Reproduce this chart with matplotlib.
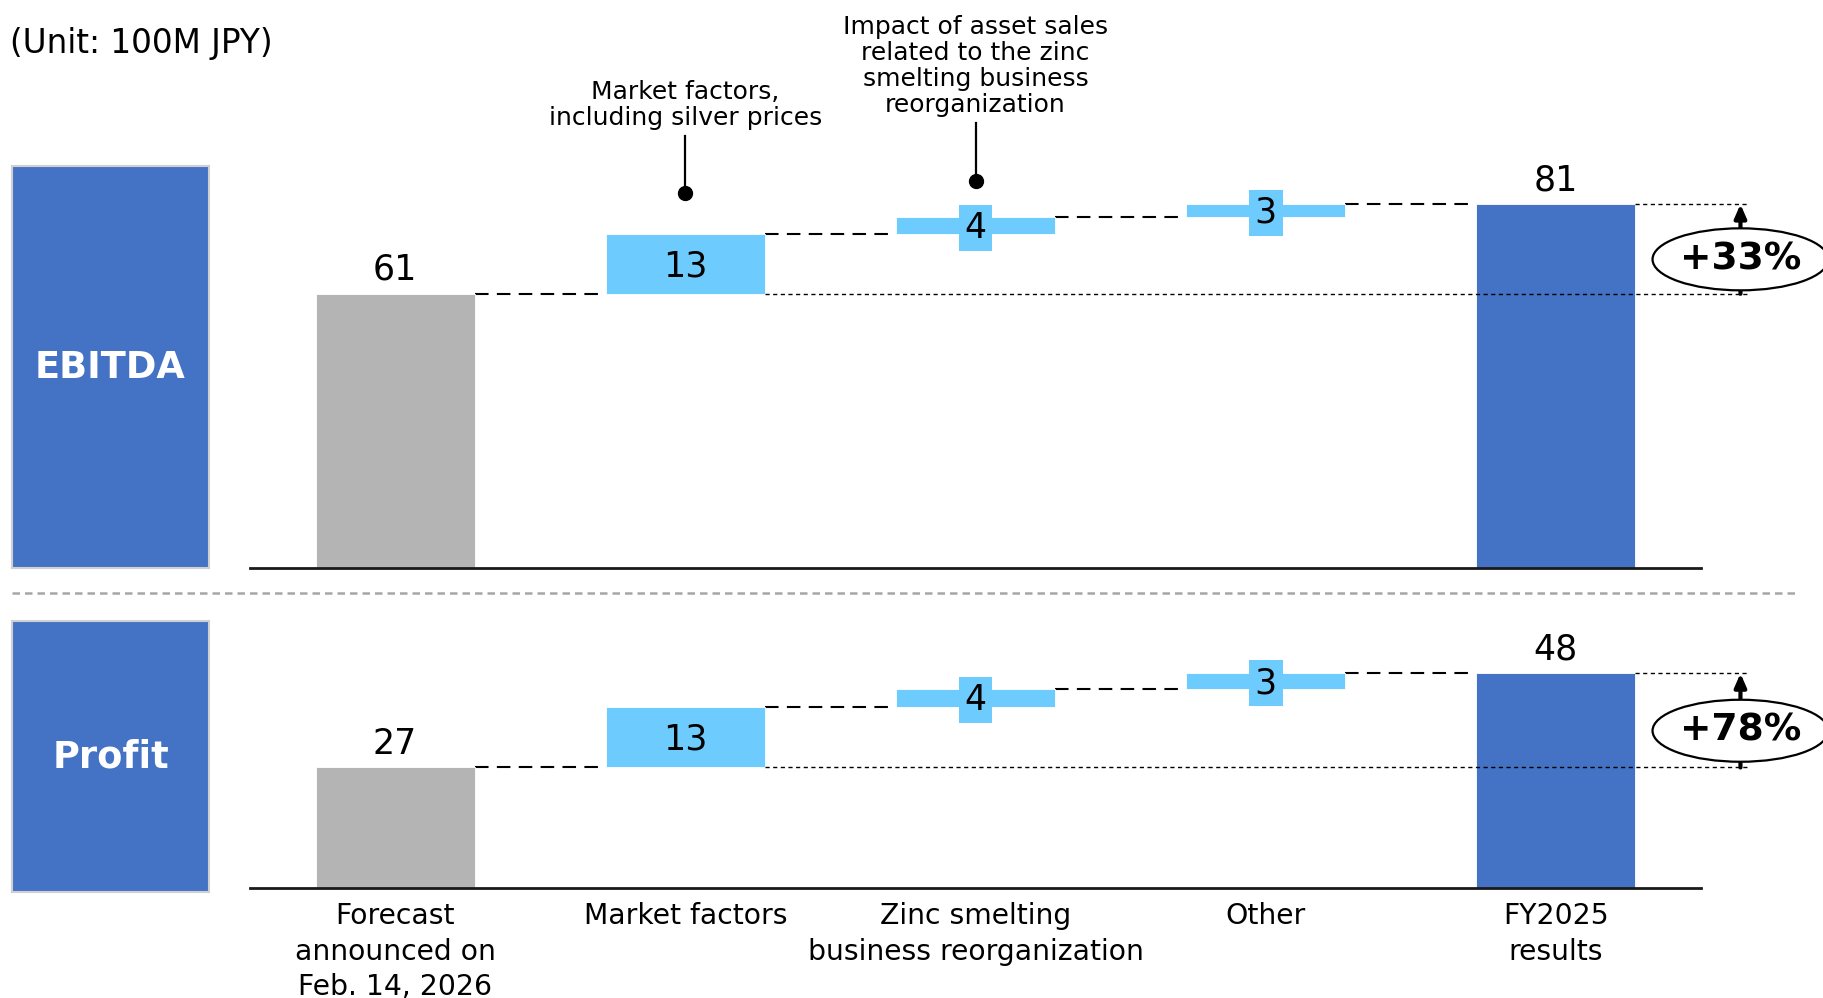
import matplotlib
matplotlib.use("Agg")
import matplotlib.pyplot as plt
from matplotlib.patches import Ellipse
from matplotlib.lines import Line2D
from matplotlib.transforms import ScaledTranslation

plt.rcParams["font.family"] = ["DejaVu Sans"]

# values in 100M JPY
categories = ["Forecast\nannounced on\nFeb. 14, 2026", "Market factors",
              "Zinc smelting\nbusiness reorganization", "Other", "FY2025\nresults"]
ebitda = [61.2, 13.3, 3.8, 2.9, 81.2]   # start, deltas..., result
profit = [26.9, 13.4, 4.2, 3.4, 47.9]
panels = ["EBITDA", "Profit"]
notes = ["Market factors,\nincluding silver prices",
         "Impact of asset sales\nrelated to the zinc\nsmelting business\nreorganization"]

GRAY, LBLUE, BLUE = "#B4B4B4", "#6ECBFE", "#4472C4"
W, H = 1824, 998
PXU = 4.48          # pixels per unit, same for both panels
HW = 0.274          # half bar width

fig = plt.figure(figsize=(W / 100, H / 100), dpi=100)


def frame(px_top, px_bot, left=250, right=1701):
    return [left / W, 1 - px_bot / H, (right - left) / W, (px_bot - px_top) / H]


def shift(ax, dy_pt):
    return ax.transData + ScaledTranslation(0, dy_pt / 72, fig.dpi_scale_trans)


def label_box(px_top, px_bot, name):
    bx = fig.add_axes(frame(px_top, px_bot, 12, 209))
    bx.set_facecolor(BLUE)
    bx.set_xticks([]); bx.set_yticks([])
    for s in bx.spines.values():
        s.set_color("#D0D0D0"); s.set_linewidth(1.5)
    bx.text(0.5, 0.5, name, color="white", fontsize=26.5, fontweight="bold",
            ha="center", va="center", transform=bx.transAxes)


def waterfall(ax, vals, px_h):
    start, deltas, end = vals[0], vals[1:-1], vals[-1]
    ax.set_xlim(-0.5, 4.5)
    ax.set_ylim(0, px_h / PXU)
    for s in ("top", "left", "right"):
        ax.spines[s].set_visible(False)
    ax.spines["bottom"].set_linewidth(2)
    ax.spines["bottom"].set_color("#1a1a1a")
    ax.set_yticks([])

    ax.bar(0, start, width=2 * HW, color=GRAY, edgecolor="white", lw=0.6, zorder=2)
    ax.text(0, start, f"{start:.0f}", ha="center", va="bottom", fontsize=25,
            zorder=5, transform=shift(ax, 5))
    level = start
    levels = [start]
    for i, d in enumerate(deltas, start=1):
        ax.bar(i, d, bottom=level, width=2 * HW, color=LBLUE, edgecolor="white",
               lw=0.6, zorder=2)
        ax.text(i, level + d / 2, f"{d:.0f}", ha="center", va="center", fontsize=25,
                zorder=5, transform=shift(ax, -1.5),
                bbox=dict(boxstyle="square,pad=0.17", fc=LBLUE, ec="none"))
        level += d
        levels.append(level)
    ax.bar(4, end, width=2 * HW, color=BLUE, edgecolor="white", lw=0.6, zorder=2)
    ax.text(4, end, f"{end:.0f}", ha="center", va="bottom", fontsize=25,
            zorder=5, transform=shift(ax, 5))
    levels[-1] = end

    # connectors
    for i, lv in enumerate(levels):
        ax.plot([i + HW, i + 1 - HW], [lv, lv], color="black", lw=1.5,
                ls=(0, (6.5, 4)), zorder=1)

    # change marker
    xa = 4.636
    ax.plot([1 + HW, 4.667], [start, start], color="black", lw=1.0,
            ls=(0, (3, 2.5)), zorder=4, clip_on=False)
    ax.plot([4 + HW, 4.667], [end, end], color="black", lw=1.0,
            ls=(0, (3, 2.5)), zorder=4, clip_on=False)
    ax.annotate("", xy=(xa, end), xytext=(xa, start), annotation_clip=False,
                arrowprops=dict(arrowstyle="-|>,head_width=0.35,head_length=0.8",
                                lw=3, color="black", shrinkA=0, shrinkB=0),
                zorder=5)
    ym = (start + end) / 2 - 2.3
    ax.add_patch(Ellipse((xa, ym), 0.606, 62 / PXU, fc="white", ec="black",
                         lw=1.6, zorder=6, clip_on=False))
    ax.text(xa, ym, f"+{(end / start - 1) * 100:.0f}%", ha="center", va="center",
            fontsize=27, fontweight="bold", zorder=7)
    return levels


ax1 = fig.add_axes(frame(166, 568))
waterfall(ax1, ebitda, 568 - 166)
ax1.set_xticks([])
ax2 = fig.add_axes(frame(621, 888))
waterfall(ax2, profit, 888 - 621)
ax2.set_xticks(range(len(categories)))
ax2.set_xticklabels(categories, fontsize=20.3, linespacing=1.35)
ax2.tick_params(axis="x", length=0, pad=10)

label_box(166, 568, panels[0])
label_box(621, 892, panels[1])

# callouts for the EBITDA bridge
for i, (note, dot, top) in enumerate(zip(notes, [83.7, 86.4], [96.4, 99.3]), start=1):
    ax1.plot([i, i], [dot, top], color="black", lw=1.6, clip_on=False, zorder=5)
    ax1.plot(i, dot, "o", color="black", ms=10, clip_on=False, zorder=5)
    ax1.text(i, top + 1.4, note, ha="center", va="bottom", fontsize=18,
             linespacing=1.1, clip_on=False)

fig.text(10 / W, 1 - 43 / H, "(Unit: 100M JPY)", fontsize=23.5, ha="left", va="center")
fig.add_artist(Line2D([12 / W, 1795 / W], [1 - 593 / H, 1 - 593 / H],
                      transform=fig.transFigure, color="#A6A6A6", lw=1.8,
                      ls=(0, (3, 2))))

fig.savefig("out.png", dpi=100)
